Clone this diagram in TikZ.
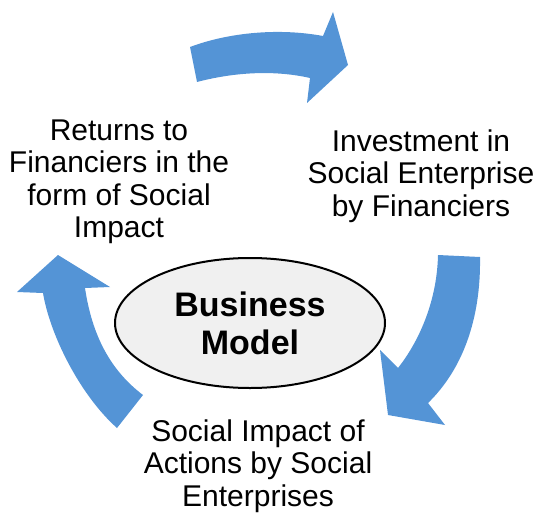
\documentclass[tikz,border=0pt]{standalone}
\usepackage{fontspec}
\setmainfont{Liberation Sans}
\usetikzlibrary{shapes.geometric}
\definecolor{pfeilblau}{RGB}{84,148,214}
\begin{document}
\begin{tikzpicture}[
      x=0.5pt, y=-0.5pt,
      pfeil/.style={fill=pfeilblau, draw=none},
      etikett/.style={align=center, inner sep=0pt, font=\fontsize{15}{16.25}\selectfont},
      kern/.style={ellipse, draw=black, line width=1pt, fill=gray!12, minimum width=135pt,
        minimum height=65pt, align=center, inner sep=0pt, font=\fontsize{17}{19}\selectfont\bfseries}
    ]
      \useasboundingbox (0,0) rectangle (539,513);
      \fill[pfeil] (190,47) .. controls (230,32) and (280,28) .. (323,36) -- (333,12) -- (348,65)
        -- (307,103) -- (310,78) .. controls (275,70) and (235,72) .. (197,82) -- cycle;
      \fill[pfeil] (438,255) -- (480,257) .. controls (481,320) and (462,370) .. (428,403)
        -- (445,425) -- (388,415) -- (380,350) -- (398,368) .. controls (420,340) and (437,300) .. (438,255) -- cycle;
      \fill[pfeil] (58,255) -- (110,287) -- (85,288) .. controls (92,335) and (110,370) .. (143,395)
        -- (117,428) .. controls (80,395) and (50,335) .. (43,293) -- (17,292) -- cycle;
      \node[kern] (modell) at (250,323) {Business\\Model};
      \node[etikett] (rendite) at (119,182) {Returns to\\Financiers in the\\form of Social\\Impact};
      \node[etikett] (invest) at (421,176) {Investment in\\Social Enterprise\\by Financiers};
      \node[etikett] (wirkung) at (258,466) {Social Impact of\\Actions by Social\\Enterprises};
    \end{tikzpicture}
\end{document}
